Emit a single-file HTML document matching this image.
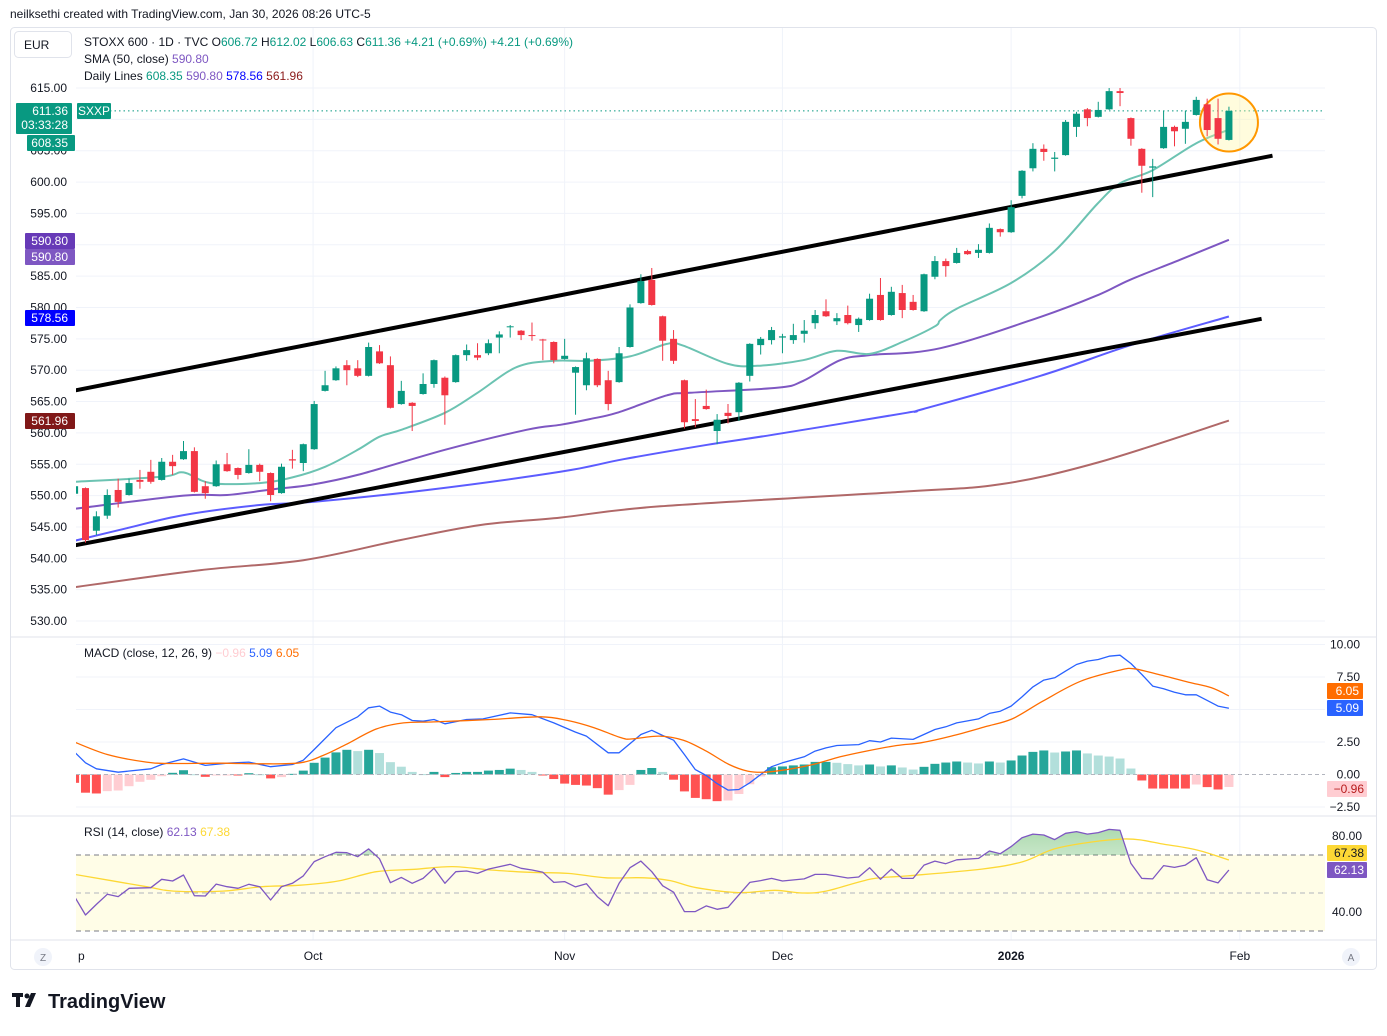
<!DOCTYPE html>
<html><head><meta charset="utf-8"><style>
html,body{margin:0;padding:0;background:#fff;}
body{width:1387px;height:1031px;overflow:hidden;font-family:"Liberation Sans",sans-serif;}
svg text{font-family:"Liberation Sans",sans-serif;}
</style></head><body>
<svg id="chart" width="1387" height="1031" viewBox="0 0 1387 1031" xmlns="http://www.w3.org/2000/svg">
<defs>
<clipPath id="mainClip"><rect x="76" y="28" width="1249" height="608"/></clipPath>
<clipPath id="subClip"><rect x="76" y="637" width="1249" height="303"/></clipPath>
<linearGradient id="obGrad" x1="0" y1="0" x2="0" y2="1"><stop offset="0" stop-color="#4caf50" stop-opacity="0.45"/><stop offset="1" stop-color="#4caf50" stop-opacity="0"/></linearGradient>
</defs>
<text x="10" y="18" font-size="12" fill="#131722">neilksethi created with TradingView.com, Jan 30, 2026 08:26 UTC-5</text>
<rect x="10.5" y="27.5" width="1366" height="942" rx="4" fill="#fff" stroke="#e0e3eb"/>
<g id="grid"></g>
<line x1="11" x2="1376" y1="637" y2="637" stroke="#e0e3eb"/>
<line x1="11" x2="1376" y1="816" y2="816" stroke="#e0e3eb"/>
<line x1="11" x2="1376" y1="940" y2="940" stroke="#e0e3eb"/>
<g id="main" clip-path="url(#mainClip)"></g>
<g id="macd" clip-path="url(#subClip)"></g>
<g id="rsi" clip-path="url(#subClip)"></g>
<g id="axes"></g>
<rect x="14.5" y="31.5" width="57" height="26" rx="4" fill="#fff" stroke="#e0e3eb"/>
<text x="24" y="49" font-size="12" fill="#131722">EUR</text>
<text x="84" y="46" font-size="12" fill="#131722">STOXX 600 · 1D · TVC  O<tspan fill="#089981">606.72</tspan> H<tspan fill="#089981">612.02</tspan> L<tspan fill="#089981">606.63</tspan> C<tspan fill="#089981">611.36 +4.21 (+0.69%)  +4.21 (+0.69%)</tspan></text>
<text x="84" y="63" font-size="12" fill="#131722">SMA (50, close) <tspan fill="#7e57c2">590.80</tspan></text>
<text x="84" y="80" font-size="12" fill="#131722">Daily Lines <tspan fill="#089981">608.35</tspan> <tspan fill="#7e57c2">590.80</tspan> <tspan fill="#0000ff">578.56</tspan> <tspan fill="#8b1a1a">561.96</tspan></text>
<text x="84" y="657" font-size="12" fill="#131722">MACD (close, 12, 26, 9) <tspan fill="#ffcdd2">−0.96</tspan> <tspan fill="#2962ff">5.09</tspan> <tspan fill="#ff6d00">6.05</tspan></text>
<text x="84" y="836" font-size="12" fill="#131722">RSI (14, close) <tspan fill="#7e57c2">62.13</tspan> <tspan fill="#fdd835">67.38</tspan></text>
<g>
<rect x="12" y="993" width="11" height="4" fill="#131722"/>
<rect x="16" y="993" width="4" height="14" fill="#131722"/>
<circle cx="27" cy="996" r="2.5" fill="#131722"/>
<polygon points="31,993 36,993 30,1007 25,1007" fill="#131722"/>
<text x="48" y="1008" font-size="20" font-weight="bold" fill="#131722">TradingView</text>
</g>
</svg>
<script>
const NS='http://www.w3.org/2000/svg';
// ---------- data ----------
const opens=[550.3,551.2,544.4,546.8,550.9,550.1,552.5,553.8,552.5,555.4,555.8,557.1,551.5,551.5,555.0,554.4,553.6,554.9,553.6,550.4,555.8,555.2,557.4,566.7,568.4,570.8,570.3,569.1,573.0,570.8,564.6,564.8,566.2,567.8,568.8,568.1,572.4,572.4,572.7,575.2,576.9,576.3,575.6,574.9,574.5,571.8,569.6,567.6,571.8,568.4,568.1,573.7,580.7,584.4,578.6,575.0,568.4,562.2,564.3,560.3,563.2,563.3,569.1,574.0,574.8,575.2,574.8,575.8,577.5,579.4,577.8,578.8,577.2,578.0,582.0,578.8,582.3,580.9,579.4,584.9,587.4,587.1,589.0,588.7,588.7,592.5,592.0,597.8,602.2,605.3,603.7,604.3,608.8,611.6,610.4,611.6,614.5,610.2,605.3,602.3,605.4,608.8,608.5,610.7,612.4,610.2,606.72];
const highs=[552,551.3,547.5,551,552.7,552.7,554.1,555.7,556,556.5,558.7,557.7,552.3,555.6,556.8,554.5,557.4,555.1,553.7,555.1,557.3,558.3,565.1,569.9,570.6,571.6,571.6,574.4,574.0,572.2,568.3,564.9,569.5,571.7,569.0,572.5,574.1,574.3,574.9,576.2,577.2,576.4,577.6,575.0,574.6,575.0,570.6,572.8,571.9,569.9,573.7,580.5,585.3,586.3,578.7,576.4,568.5,565.4,566.9,563.0,564.6,568.1,574.3,575.3,576.9,575.8,577.4,578.0,579.6,581.3,579.1,580.3,578.4,582.2,584.7,583.3,583.6,582.0,585.4,588.2,587.8,589.5,589.2,590.1,593.4,592.6,597.1,601.9,606.2,606.0,604.8,609.9,611.2,611.8,612.8,615.0,615.0,610.3,605.4,603.7,611.4,609.0,611.4,613.6,613.3,613.3,612.02];
const lows=[550,542.5,543.7,546.3,548.1,550.0,551.1,551.9,552.4,553.3,555.7,550.5,549.5,551.4,553.8,552.6,553.5,552.3,549.1,550.3,554.3,553.9,557.3,566.6,568.3,567.6,568.9,569.0,571.0,563.9,564.5,560.3,566.1,567.2,561.3,568.0,571.5,571.6,572.4,572.7,575.2,574.8,574.7,571.6,571.1,571.7,562.9,566.8,567.3,563.6,568.0,573.6,580.6,580.3,571.5,571.0,560.7,560.9,563.7,558.2,561.5,561.9,568.2,572.5,574.1,572.7,574.2,574.4,576.6,578.5,577.2,577.3,576.1,577.9,577.9,578.7,578.3,579.5,579.3,584.5,584.9,587.0,588.4,587.9,588.6,591.3,591.9,597.4,601.7,603.4,601.7,604.2,607.2,608.9,610.3,611.5,612.1,605.8,598.3,597.6,605.3,605.7,606.1,610.6,607.3,606.0,606.63];
const closes=[551.5,542.9,546.7,550.1,549.0,552.0,552.2,552.2,555.4,554.7,557.1,550.6,550.4,555.0,553.9,553.3,554.9,553.8,550.1,554.6,555.6,558.2,564.6,567.6,570.3,570.0,569.1,573.7,571.1,564.0,566.7,564.3,567.8,571.6,566.0,572.4,573.2,572.0,574.3,575.7,577.0,575.6,575.5,574.8,571.6,572.3,570.5,571.9,567.6,564.6,572.7,580.0,584.2,580.4,574.7,571.5,561.7,561.9,563.8,562.1,562.7,568.0,574.2,575.0,576.4,575.4,575.6,576.3,578.8,578.6,578.3,577.5,578.2,581.4,578.0,582.5,579.6,579.6,585.3,587.4,586.6,588.7,588.5,589.2,592.7,592.0,596.0,601.8,605.3,604.8,603.9,609.6,610.9,610.2,611.5,614.5,614.2,606.9,602.6,602.5,608.8,608.1,609.6,613.1,608.3,606.9,611.36];
const sma20Idx=[0,8,10,12.5,17,20,23,26,28,30,34,37,40.6,44,47.3,51,54.4,55.9,60,62.7,66.9,70,73,76,79,79.5,81,86,90,93.9,96,99,103,106];
const sma20Val=[552.2,553.0,553.7,552.0,552.0,552.9,554.6,557.3,559.4,560.5,563.2,566.4,570.5,571.5,571.5,572.2,574.2,573.9,571.0,570.7,571.6,573.1,572.6,574.5,577.0,578.0,579.8,583.9,589.0,596.5,599.8,601.9,606.2,608.35];
const sma50Idx=[0,10,14,18.6,21.6,26,34,41.5,44.6,47.3,49.8,54.4,56.5,64.5,66.9,70.3,73,79.5,88.7,94,96.9,101.5,106];
const sma50Val=[547.9,550.0,550.1,551.1,551.7,553.3,557.3,560.5,561.3,562.2,563.2,566.0,566.4,567.2,568.3,571.6,572.4,573.5,578.5,582.0,584.4,587.6,590.8];
const sma100Idx=[0,4.8,10,17,21.9,32.4,44.6,50.4,58.1,64.1,76.4,77.9,88.7,97,106];
const sma100Val=[542.8,544.8,546.9,548.5,549.0,550.9,553.8,555.8,558.1,559.7,563.2,563.8,569.1,574.0,578.56];
const sma200Idx=[0,11.5,21,29.9,37.2,44.6,53.8,75.8,85,94,106];
const sma200Val=[535.4,538.1,539.7,542.9,545.3,546.5,548.3,550.6,551.8,555.3,561.96];
const trendIdx=[0.1,110];
const upperTrend=[566.8,604.2];
const lowerTrendIdx=[0.1,109];
const lowerTrend=[542.1,578.2];
const hist=[-0.64,-1.4,-1.46,-1.28,-1.23,-0.9,-0.56,-0.41,-0.13,0.13,0.33,0.02,-0.18,-0.08,-0.03,-0.05,0.1,0.02,-0.3,-0.2,0.05,0.3,0.9,1.3,1.7,1.9,1.8,1.9,1.65,0.95,0.6,0.2,0.03,0.2,-0.2,0.12,0.2,0.2,0.3,0.35,0.45,0.35,0.2,-0.03,-0.35,-0.7,-0.8,-0.85,-1.05,-1.55,-1.2,-0.8,0.35,0.5,0.2,-0.4,-1.3,-1.8,-1.9,-2.05,-2.0,-1.5,-0.75,-0.15,0.56,0.62,0.7,0.77,0.97,0.97,0.9,0.8,0.7,0.77,0.62,0.7,0.54,0.38,0.59,0.82,0.92,1.0,0.92,0.85,1.0,0.92,1.08,1.46,1.74,1.85,1.69,1.77,1.85,1.62,1.46,1.38,1.23,0.46,-0.46,-1.08,-1.08,-1.08,-1.08,-0.77,-0.97,-1.15,-0.96];
const macdIdx=[0,1,2,4,7,8,10,12,14,16,18,20,21,22,24,26,27,28,29,30,31,32,33,34,36,37.5,40,42,44,46,47,49,50,52,53,54,55,56,57,58,59,60,61,62,63,64,65,67,68,69,70,72,73,74,75,77,79,80,81,83,84,85,86,87,88,89,90,91,92,93,94,95,96,97,98,99,100,101,102,103,104,105,106];
const macdVal=[1.72,0.9,0.44,0.18,0.44,0.77,1.2,0.7,0.87,0.95,0.6,0.77,1.1,1.92,3.6,4.44,5.13,5.26,4.8,4.6,4.15,4.1,4.23,3.9,4.23,4.28,4.74,4.6,3.97,3.26,2.95,1.67,1.67,3.08,3.4,3.0,2.64,1.54,0.38,-0.08,-0.7,-1.2,-1.15,-0.64,0,0.6,0.9,1.36,1.8,2.05,2.23,2.3,2.6,2.5,2.8,2.7,3.46,3.67,3.97,4.28,4.7,4.87,5.26,5.97,6.74,7.26,7.44,7.95,8.46,8.72,8.85,9.1,9.18,8.54,7.7,6.8,6.6,6.33,6.13,6.13,5.7,5.26,5.09];
const sigIdx=[0,3,6.6,8.7,13.6,17.2,20.7,22.8,24.9,27.7,30.2,33,38.2,42.8,45.3,47.7,50.2,51.2,53.7,55.9,58,60.1,61.8,63.4,65.4,67.8,70.3,72.7,75.5,77.7,80.5,83.6,86.1,88.9,92.4,96,97.3,99.5,102.3,104.4,106];
const sigVal=[2.49,1.54,0.95,0.85,0.87,0.82,0.9,1.46,2.3,3.5,3.97,4.05,4.23,4.44,4.15,3.6,2.82,2.74,2.95,2.64,1.8,0.77,0.26,0.18,0.38,0.77,1.36,1.8,2.23,2.44,2.95,3.67,4.28,5.64,7.18,8.03,8.13,7.7,7.1,6.67,6.05];
const rsiIdx=[0,1,2,3,4,5,7,8,9,10,11,12,13,14,15,16,17,18,19,20,21,22,23,24,25,26,27,28,29,30,31,32,33,34,35,36,37,38,40,41,42,43,44,45,46,47,48,49,50,51,52,53,54,55,56,57,58,59,60,62,63,64,65,67,68,69,70,71,72,73,74,75,76,77,78,79,80,81,83,84,85,86,87,88,89,90,91,92,93,94,95,96,97,98,99,100,101,102,103,104,105,106];
const rsiVal=[48.1,38.4,44.0,49.3,48.1,52.5,52.8,57.2,56.3,59.5,48.6,48.4,54.7,53.3,52.5,54.6,53.3,46.3,53.3,55.1,59,66.5,69.1,71.4,71.2,69.1,73.2,68.0,55.4,58.2,55.1,57.7,63,55.1,61.2,61.6,60.3,62.6,65.1,63,62.1,60.9,55.6,56,53.2,54.9,48.1,43.3,55.1,63.3,66.8,61.2,53.8,50.4,40.2,40.2,43.2,41.4,42.5,55.6,56.5,57.7,56.3,57.4,59.8,59.8,58.9,57.9,58.4,63.3,57.2,62.6,57.7,57.7,64.7,66.8,65.4,67.5,68.2,72.1,70.7,74.4,79.1,81,80.5,78.1,81.4,82.3,81,81.8,83.5,83,65.6,57.7,57.4,64.4,63.5,64.7,68.6,57,55.3,62.13];
const rsiMaIdx=[0,6.6,9.1,13.6,17.2,20.7,24.2,27.7,31.2,34.7,38.2,41.8,45.3,48.8,52.3,54.7,57.1,61,64.3,66.8,69,73.2,76.5,83.3,87.1,90.4,96.3,100.1,103.1,106];
const rsiMaVal=[59.8,53.3,51,51,53.3,54.1,56.3,61.2,62.5,63.9,62.1,60.9,60.3,58,58,56.5,52.8,50.2,51.4,50,51,57.4,59,62.6,66.5,73.9,78.4,75.6,72.6,67.38];
const priceTicks=[615,610,605,600,595,590,585,580,575,570,565,560,555,550,545,540,535,530];
const macdTicks=[10,7.5,2.5,0,-2.5];
const rsiTicks=[80,40];
const dateLabels=['p','Oct','Nov','Dec','2026','Feb'];
const dateIdx=[0.5,21.9,45,65,86,107];
// ---------- scales ----------
const X=i=>74.6+i*10.89;
const PY=p=>88+(615-p)*6.271;
const MY=v=>774.5-v*13;
const RY=v=>836+(80-v)*1.9;
function el(tag,attrs,parent){const e=document.createElementNS(NS,tag);for(const k in attrs)e.setAttribute(k,attrs[k]);parent.appendChild(e);return e;}
const gMain=document.getElementById('main'),gMacd=document.getElementById('macd'),gRsi=document.getElementById('rsi'),gGrid=document.getElementById('grid'),gAx=document.getElementById('axes');
priceTicks.forEach(p=>{const l=el('line',{x1:76,x2:1325,y1:PY(p),y2:PY(p),stroke:'#f0f3fa'},gGrid);});
[10,7.5,5,2.5,-2.5].forEach(v=>{const l=el('line',{x1:76,x2:1325,y1:MY(v),y2:MY(v),stroke:'#f0f3fa'},gGrid);});
dateIdx.forEach((d,k)=>{if(k===0)return;const l=el('line',{x1:X(d),x2:X(d),y1:28,y2:940,stroke:'#f0f3fa'},gGrid);});
function poly(idx,val,ys,color,w,parent,name){const pts=idx.map((d,k)=>X(d).toFixed(1)+','+ys(val[k]).toFixed(1)).join(' ');const p=el('polyline',{points:pts,fill:'none',stroke:color,'stroke-width':w,'stroke-linejoin':'round'},parent);return p;}
function smooth(idx,val,ys,color,w,parent,name){
 const P=idx.map((d,k)=>[X(d),ys(val[k])]);
 let d='M'+P[0][0].toFixed(1)+','+P[0][1].toFixed(1);
 for(let i=0;i<P.length-1;i++){const p0=P[Math.max(0,i-1)],p1=P[i],p2=P[i+1],p3=P[Math.min(P.length-1,i+2)];
  const c1=[p1[0]+(p2[0]-p0[0])/6,p1[1]+(p2[1]-p0[1])/6],c2=[p2[0]-(p3[0]-p1[0])/6,p2[1]-(p3[1]-p1[1])/6];
  d+=' C'+c1[0].toFixed(1)+','+c1[1].toFixed(1)+' '+c2[0].toFixed(1)+','+c2[1].toFixed(1)+' '+p2[0].toFixed(1)+','+p2[1].toFixed(1);}
 const p=el('path',{d:d,fill:'none',stroke:color,'stroke-width':w,'stroke-linejoin':'round'},parent);return p;}
smooth(sma200Idx,sma200Val,PY,'#b06868',2,gMain,'sma200-line');
smooth(sma100Idx,sma100Val,PY,'#5c5cff',2,gMain,'sma100-line');
smooth(sma50Idx,sma50Val,PY,'#7e57c2',2,gMain,'sma50-line');
smooth(sma20Idx,sma20Val,PY,'#6cc3b2',2,gMain,'sma20-line');
poly(trendIdx,upperTrend,PY,'#000',4,gMain,'upper-trendline');
poly(lowerTrendIdx,lowerTrend,PY,'#000',4,gMain,'lower-trendline');
const lp=el('line',{x1:110,x2:1325,y1:PY(closes[closes.length-1]),y2:PY(closes[closes.length-1]),stroke:'#089981','stroke-dasharray':'1.5 3'},gMain);


const hc=el('circle',{cx:X(106),cy:PY(609.5),r:29,fill:'#fff59d','fill-opacity':0.35,stroke:'#ff9800','stroke-width':2},gMain);


for(let i=0;i<opens.length;i++){
 const up=closes[i]>=opens[i];const c=up?'#089981':'#f23645';
 const g=el('g',{},gMain);
 
 
 el('line',{x1:X(i),x2:X(i),y1:PY(highs[i]),y2:PY(lows[i]),stroke:c,'stroke-width':1},g);
 const t=PY(Math.max(opens[i],closes[i])),b=PY(Math.min(opens[i],closes[i]));
 el('rect',{x:X(i)-3.5,y:t,width:7,height:Math.max(1,b-t),fill:c},g);
}
for(let i=0;i<hist.length;i++){
 const v=hist[i],pv=i>0?hist[i-1]:v;let c;
 if(v>=0)c=(v>=pv)?'#26a69a':'#b2dfdb';else c=(v<=pv)?'#ff5252':'#ffcdd2';
 const y0=MY(0),y1=MY(v);
 const r=el('rect',{x:X(i)-4.5,y:Math.min(y0,y1),width:9,height:Math.max(1,Math.abs(y1-y0)),fill:c},gMacd);
 
 
}
const z=el('line',{x1:76,x2:1325,y1:MY(0),y2:MY(0),stroke:'#b2b5be','stroke-dasharray':'4 3'},gMacd);


poly(macdIdx,macdVal,MY,'#2962ff',1.3,gMacd,'macd-line');
smooth(sigIdx,sigVal,MY,'#ff6d00',1.3,gMacd,'signal-line');
const band=el('rect',{x:76,y:RY(70),width:1249,height:RY(30)-RY(70),fill:'#fffde7'},gRsi);


[70,50,30].forEach(v=>{const l=el('line',{x1:76,x2:1325,y1:RY(v),y2:RY(v),stroke:v===50?'#b2b5be':'#787b86','stroke-dasharray':'5 4'},gRsi);});
el('clipPath',{id:'obClip'},gRsi).appendChild(document.createElementNS(NS,'rect'));
const ocr=document.querySelector('#obClip rect');ocr.setAttribute('x',76);ocr.setAttribute('y',816);ocr.setAttribute('width',1249);ocr.setAttribute('height',RY(70)-816);
const areaPts=rsiIdx.map((d,k)=>X(d).toFixed(1)+','+RY(rsiVal[k]).toFixed(1)).join(' ')+' '+X(rsiIdx[rsiIdx.length-1])+','+RY(70)+' '+X(rsiIdx[0])+','+RY(70);
const ob=el('polygon',{points:areaPts,fill:'url(#obGrad)','clip-path':'url(#obClip)'},gRsi);


smooth(rsiMaIdx,rsiMaVal,RY,'#fdd835',1.3,gRsi,'rsi-ma-line');
poly(rsiIdx,rsiVal,RY,'#7e57c2',1.3,gRsi,'rsi-line');
function txt(x,y,s,attrs,name){const t=el('text',Object.assign({x:x,y:y,'font-size':12,fill:'#131722'},attrs||{}),gAx);t.textContent=s;return t;}
priceTicks.forEach(p=>txt(67,PY(p)+4,p.toFixed(2),{'text-anchor':'end'},'price-tick-label'));
macdTicks.forEach(v=>txt(1360,MY(v)+4,(v<0?'−':'')+Math.abs(v).toFixed(2),{'text-anchor':'end'},'macd-tick-label'));
rsiTicks.forEach(v=>txt(1362,RY(v)+4,v.toFixed(2),{'text-anchor':'end'},'rsi-tick-label'));
dateLabels.forEach((s,k)=>txt(k===0?78:X(dateIdx[k]),960,s,{'text-anchor':k===0?'start':'middle','font-weight':s==='2026'?'bold':'normal'},'date-label'));
function badge(x,y,w,h,bg,lines,fg,name,anchorX,anchor){const g=el('g',{},gAx);el('rect',{x:x,y:y,width:w,height:h,fill:bg,rx:1},g);lines.forEach((s,k)=>{const t=el('text',{x:anchorX,y:y+12+k*14,'font-size':12,fill:fg,'text-anchor':anchor||'end'},g);t.textContent=s;});}
badge(16,103,56,31,'#089981',['611.36','03:33:28'],'#fff','last-price-badge',68);
badge(77,103,34,16,'#089981',['SXXP'],'#fff','symbol-badge',94,'middle');
badge(27,135,48,16,'#089981',['608.35'],'#fff','sma20-badge',68);
badge(25,233,50,16,'#673ab7',['590.80'],'#fff','sma50-badge',68);
badge(25,249,50,16,'#7e57c2',['590.80'],'#fff','daily-sma50-badge',68);
badge(25,310,50,16,'#0000ff',['578.56'],'#fff','sma100-badge',68);
badge(25,413,50,16,'#801818',['561.96'],'#fff','sma200-badge',68);
badge(1327,683,36,16,'#ff6d00',['6.05'],'#fff','signal-badge',1359);
badge(1327,700,36,16,'#2962ff',['5.09'],'#fff','macd-badge',1359);
badge(1327,781,40,16,'#ffcdd2',['−0.96'],'#b71c1c','histogram-badge',1364);
badge(1327,845,40,16,'#fdd835',['67.38'],'#131722','rsi-ma-badge',1364);
badge(1327,862,40,16,'#7e57c2',['62.13'],'#fff','rsi-badge',1364);
[[43,'Z','zoom-button'],[1351,'A','auto-scale-button']].forEach(b=>{const g=el('g',{},gAx);el('circle',{cx:b[0],cy:957,r:9,fill:'#f0f3fa'},g);const t=el('text',{x:b[0],y:961,'font-size':10,fill:'#787b86','text-anchor':'middle'},g);t.textContent=b[1];});
</script>
</body></html>
